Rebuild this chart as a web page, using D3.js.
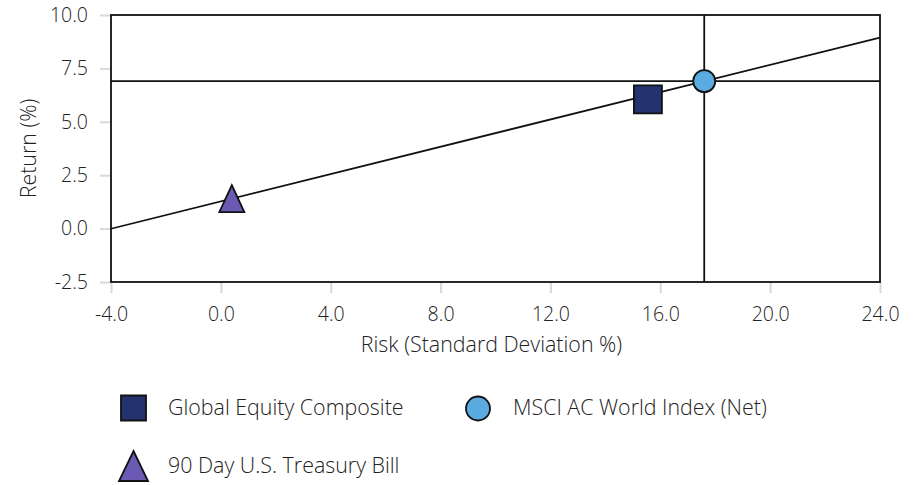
<!DOCTYPE html>
<html>
<head>
<meta charset="utf-8">
<script src="https://cdn.jsdelivr.net/npm/d3@7"></script>
<style>
body { margin: 0; background: #fff; }
text { font-family: "Open Sans", "Noto Sans", sans-serif; font-weight: 300; fill: #222; }
</style>
</head>
<body>
<div id="chart"></div>
<script>
// chart values
var seriesNames = ['Global Equity Composite', 'MSCI AC World Index (Net)', '90 Day U.S. Treasury Bill'];
var riskValues = [15.55, 17.6, 0.4];
var returnValues = [6.05, 6.9, 1.4];
var xTicks = [-4, 0, 4, 8, 12, 16, 20, 24];
var yTicks = [-2.5, 0, 2.5, 5, 7.5, 10];

var width = 917, height = 485;
var margin = {left: 111, right: 37, top: 15, bottom: 203};

var svg = d3.select('#chart').append('svg')
	.attr('width', width)
	.attr('height', height)

var x = d3.scaleLinear().domain([-4, 24]).range([margin.left, width - margin.right]);
var y = d3.scaleLinear().domain([-2.5, 10]).range([height - margin.bottom, margin.top]);

var colors = ['#223370', '#5aabe0', '#6a5ab4'];

//shape paths, centred on their box
function squarePath(s){ return 'M' + (-s/2) + ',' + (-s/2) + 'h' + s + 'v' + s + 'h' + (-s) + 'Z'; }
function circlePath(r){ return d3.arc()({innerRadius: 0, outerRadius: r, startAngle: 0, endAngle: 2*Math.PI}); }
function trianglePath(w, h){ return 'M0,' + (-h/2) + 'L' + (w/2) + ',' + (h/2) + 'L' + (-w/2) + ',' + (h/2) + 'Z'; }
function shapeFor(i, big){
	if (i == 0) return squarePath(big ? 28 : 25);
	if (i == 1) return circlePath(big ? 11 : 12);
	return trianglePath(big ? 25 : 29, big ? 27 : 30);
}

var fmt = function(d){ return d3.format('.1f')(d).replace('−', '-'); };

//light tick marks outside the frame
svg.append('g')
	.attr('transform', 'translate(0,' + (height - margin.bottom) + ')')
	.call(d3.axisBottom(x).tickValues(xTicks).tickFormat(fmt).tickSize(11).tickPadding(14))
	.call(function(g){
		g.select('.domain').remove();
		g.selectAll('line').attr('stroke', '#d9d9d9').attr('stroke-width', 2);
		g.selectAll('text').style('font-size', '19.5px').style('fill', '#222');
	})

svg.append('g')
	.attr('transform', 'translate(' + margin.left + ',0)')
	.call(d3.axisLeft(y).tickValues(yTicks).tickFormat(fmt).tickSize(11).tickPadding(12))
	.call(function(g){
		g.select('.domain').remove();
		g.selectAll('line').attr('stroke', '#d9d9d9').attr('stroke-width', 2);
		g.selectAll('text').style('font-size', '19.5px').style('fill', '#222');
	})
svg.selectAll('.tick text').attr('font-family', null);

//frame
svg.append('rect')
	.attr('x', x(-4))
	.attr('y', y(10))
	.attr('width', x(24) - x(-4))
	.attr('height', y(-2.5) - y(10))
	.attr('fill', 'none')
	.attr('stroke', '#111')
	.attr('stroke-width', 1.8)

//crosshair on the benchmark
svg.append('line')
	.attr('x1', x(-4)).attr('x2', x(24))
	.attr('y1', y(returnValues[1])).attr('y2', y(returnValues[1]))
	.attr('stroke', '#111').attr('stroke-width', 1.8)
svg.append('line')
	.attr('x1', x(riskValues[1])).attr('x2', x(riskValues[1]))
	.attr('y1', y(10)).attr('y2', y(-2.5))
	.attr('stroke', '#111').attr('stroke-width', 1.8)

//market line through t-bill and benchmark
var slope = (returnValues[1] - returnValues[2]) / (riskValues[1] - riskValues[2]);
function lineY(r){ return returnValues[2] + slope * (r - riskValues[2]); }
svg.append('line')
	.attr('x1', x(-4)).attr('y1', y(lineY(-4)))
	.attr('x2', x(24)).attr('y2', y(lineY(24)))
	.attr('stroke', '#111').attr('stroke-width', 1.8)

//points (benchmark drawn last)
var order = [0, 2, 1];
svg.selectAll('path.pt').data(order).enter()
	.append('path')
	.attr('class', 'pt')
	.attr('d', function(i){ return shapeFor(i, true); })
	.attr('transform', function(i){ return 'translate(' + x(riskValues[i]) + ',' + y(returnValues[i]) + ')'; })
	.attr('fill', function(i){ return colors[i]; })
	.attr('stroke', '#111')
	.attr('stroke-width', 1.8)

//axis titles
svg.append('text')
	.attr('x', (x(-4) + x(24)) / 2 - 4)
	.attr('y', 352)
	.attr('text-anchor', 'middle')
	.style('font-size', '21.4px')
	.text('Risk (Standard Deviation %)')
svg.append('text')
	.attr('transform', 'translate(36,' + (y(10) + y(-2.5)) / 2 + ') rotate(-90)')
	.attr('text-anchor', 'middle')
	.style('font-size', '21.4px')
	.text('Return (%)')

//legend
var legendPos = [[133.5, 408], [478, 408.5], [133.5, 466]];
var legendText = [168, 513, 168];
var legend = svg.selectAll('g.leg').data([0, 1, 2]).enter()
	.append('g')
	.attr('class', 'leg')
legend.append('path')
	.attr('d', function(i){ return shapeFor(i, false); })
	.attr('transform', function(i){ return 'translate(' + legendPos[i][0] + ',' + legendPos[i][1] + ')'; })
	.attr('fill', function(i){ return colors[i]; })
	.attr('stroke', '#111')
	.attr('stroke-width', 1.8)
legend.append('text')
	.attr('x', function(i){ return legendText[i]; })
	.attr('y', function(i){ return i == 2 ? 473 : 415; })
	.style('font-size', '21.4px')
	.text(function(i){ return seriesNames[i]; })
</script>
</body>
</html>
